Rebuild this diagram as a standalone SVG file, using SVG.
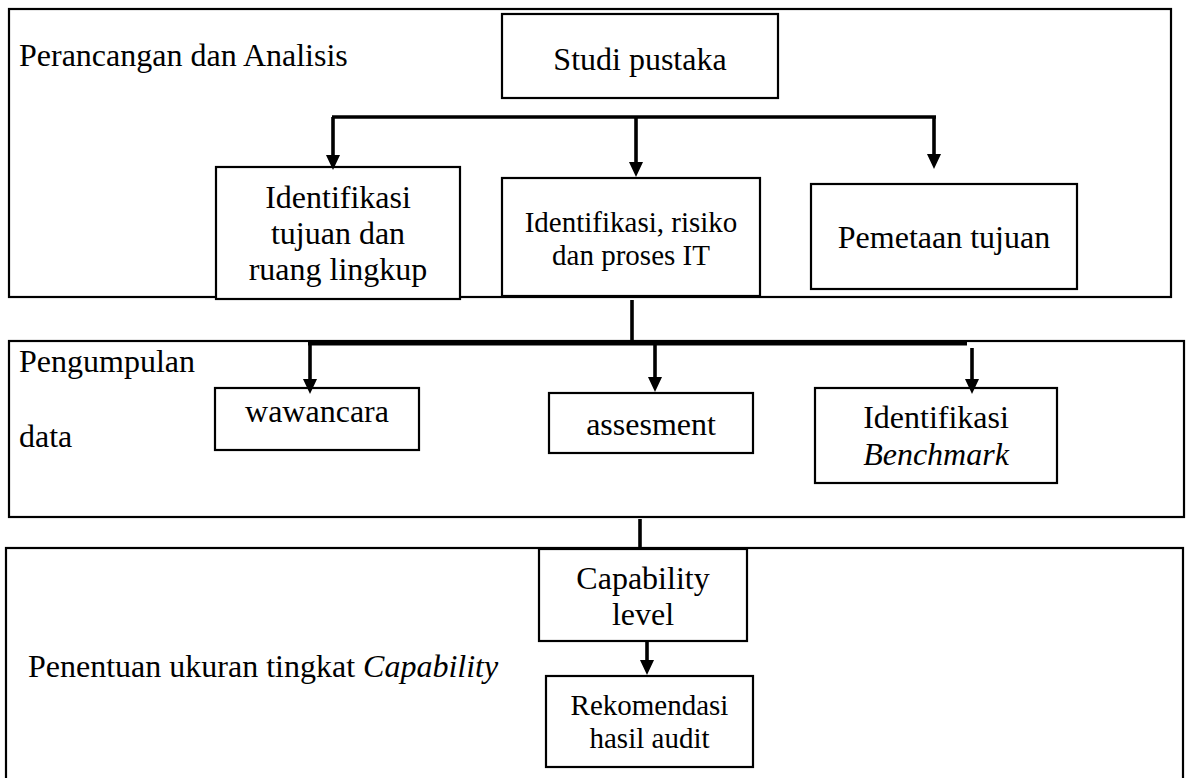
<svg xmlns="http://www.w3.org/2000/svg" width="1186" height="778" viewBox="0 0 1186 778">
<style>
.frame{fill:#fff;stroke:#000;stroke-width:2.2}
.box{fill:#fff;stroke:#000;stroke-width:2.2}
.t{font-family:"Liberation Serif","Times New Roman",serif;font-size:32px;fill:#000}
.s{font-size:29px}
.c{text-anchor:middle}
.ln{stroke:#000;stroke-width:3.6;fill:none}
.thick{stroke:#000;stroke-width:5;fill:none}
</style>
<defs>
<marker id="ah" markerUnits="userSpaceOnUse" markerWidth="16" markerHeight="16" refX="1" refY="7" orient="auto">
<path d="M0,0 L15,7 L0,14 z" fill="#000"/>
</marker>
</defs>
<rect width="1186" height="778" fill="#fff"/>
<g id="section1">
<rect class="frame" x="9" y="9" width="1162" height="288"/>
<text class="t" x="19" y="66">Perancangan dan Analisis</text>
</g>
<g id="section2">
<rect class="frame" x="9" y="341" width="1175" height="176"/>
<text class="t" x="19" y="372">Pengumpulan</text>
<text class="t" x="19" y="447">data</text>
</g>
<g id="section3">
<rect class="frame" x="6" y="548" width="1177" height="300"/>
<text class="t" x="28" y="677">Penentuan ukuran tingkat <tspan font-style="italic">Capability</tspan></text>
</g>
<g id="studi">
<rect class="box" x="502" y="14" width="276" height="84"/>
<text class="t c" x="640" y="70">Studi pustaka</text>
</g>
<g id="tujuan">
<rect class="box" x="216" y="167" width="244" height="132"/>
<text class="t c" x="338" y="208">Identifikasi</text>
<text class="t c" x="338" y="244">tujuan dan</text>
<text class="t c" x="338" y="280">ruang lingkup</text>
</g>
<g id="risiko">
<rect class="box" x="502" y="178" width="258" height="118"/>
<text class="t s c" x="631" y="232">Identifikasi, risiko</text>
<text class="t s c" x="631" y="265">dan proses IT</text>
</g>
<g id="pemetaan">
<rect class="box" x="811" y="184" width="266" height="105"/>
<text class="t c" x="944" y="248">Pemetaan tujuan</text>
</g>
<g id="wawancara">
<rect class="box" x="215" y="388" width="204" height="62"/>
<text class="t c" x="317" y="422">wawancara</text>
</g>
<g id="assesment">
<rect class="box" x="549" y="393" width="204" height="60"/>
<text class="t c" x="651" y="435">assesment</text>
</g>
<g id="benchmark">
<rect class="box" x="815" y="388" width="242" height="95"/>
<text class="t c" x="936" y="428">Identifikasi</text>
<text class="t c" x="936" y="465" font-style="italic">Benchmark</text>
</g>
<g id="capability">
<rect class="box" x="539" y="549" width="208" height="92"/>
<text class="t c" x="643" y="589">Capability</text>
<text class="t c" x="643" y="625">level</text>
</g>
<g id="rekomendasi">
<rect class="box" x="546" y="676" width="207" height="91"/>
<text class="t s c" x="649.5" y="715">Rekomendasi</text>
<text class="t s c" x="649.5" y="748">hasil audit</text>
</g>
<g id="connectors">
<line class="ln" x1="332" y1="117" x2="936" y2="117"/>
<line class="ln" x1="333" y1="117" x2="333" y2="156" marker-end="url(#ah)"/>
<line class="ln" x1="636" y1="117" x2="636" y2="163" marker-end="url(#ah)"/>
<line class="ln" x1="934" y1="117" x2="934" y2="155" marker-end="url(#ah)"/>
<line class="ln" x1="632" y1="300" x2="632" y2="341"/>
<line class="thick" x1="308" y1="343" x2="967" y2="343"/>
<line class="ln" x1="310" y1="343" x2="310" y2="380" marker-end="url(#ah)"/>
<line class="ln" x1="655" y1="343" x2="655" y2="378" marker-end="url(#ah)"/>
<line class="ln" x1="972" y1="348" x2="972" y2="380" marker-end="url(#ah)"/>
<line class="ln" x1="640" y1="519" x2="640" y2="549"/>
<line class="ln" x1="647" y1="641" x2="647" y2="661" marker-end="url(#ah)"/>
</g>
</svg>
